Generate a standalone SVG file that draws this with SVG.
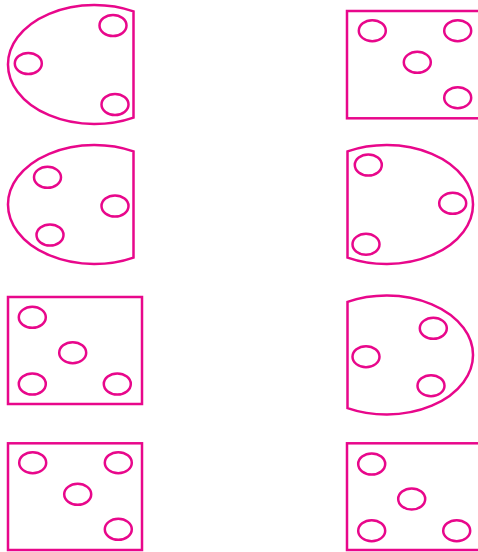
<svg xmlns="http://www.w3.org/2000/svg" width="478" height="552" viewBox="0 0 478 552">
<style>
.s{fill:none;stroke:#e8078b;stroke-width:2.5}
</style>
<defs>
<ellipse id="h" class="s" cx="0" cy="0" rx="13.5" ry="10.5"/>
</defs>
<rect width="478" height="552" fill="#fff"/>
<g id="shape1">
<path class="s" d="M133.5,11.4 A86.5,59.5 0 1 0 133.5,117.6 Z"/>
<use href="#h" x="113" y="25.5"/>
<use href="#h" x="28.3" y="63.5"/>
<use href="#h" x="115" y="104.5"/>
</g>
<g id="shape2">
<path class="s" d="M133.5,151.4 A86.5,59.5 0 1 0 133.5,257.6 Z"/>
<use href="#h" x="47.5" y="177.3"/>
<use href="#h" x="115" y="206"/>
<use href="#h" x="50" y="235"/>
</g>
<g id="shape3">
<rect class="s" x="8" y="297" width="134" height="107"/>
<use href="#h" x="32.3" y="317.3"/>
<use href="#h" x="72.7" y="352.7"/>
<use href="#h" x="32.3" y="384"/>
<use href="#h" x="117.3" y="384"/>
</g>
<g id="shape4">
<rect class="s" x="8" y="443.3" width="134" height="106.7"/>
<use href="#h" x="32.7" y="462.7"/>
<use href="#h" x="118.3" y="462.7"/>
<use href="#h" x="77.7" y="494.3"/>
<use href="#h" x="118.3" y="529.3"/>
</g>
<g id="shape5">
<rect class="s" x="347" y="11" width="136" height="107.3"/>
<use href="#h" x="372.3" y="30.7"/>
<use href="#h" x="457.7" y="30.7"/>
<use href="#h" x="417.3" y="62.3"/>
<use href="#h" x="457.7" y="97.7"/>
</g>
<g id="shape6">
<path class="s" d="M347.5,151.4 A86.5,59.5 0 1 1 347.5,257.6 Z"/>
<use href="#h" x="368.3" y="165"/>
<use href="#h" x="452.7" y="203.3"/>
<use href="#h" x="366" y="244.3"/>
</g>
<g id="shape7">
<path class="s" d="M347.5,301.9 A86.5,59.5 0 1 1 347.5,408.1 Z"/>
<use href="#h" x="433.3" y="328.3"/>
<use href="#h" x="366" y="356.7"/>
<use href="#h" x="431" y="385.7"/>
</g>
<g id="shape8">
<rect class="s" x="347" y="443.3" width="136" height="106.7"/>
<use href="#h" x="371.7" y="464"/>
<use href="#h" x="411.7" y="499"/>
<use href="#h" x="371.7" y="530.7"/>
<use href="#h" x="456.7" y="530.7"/>
</g>
</svg>
